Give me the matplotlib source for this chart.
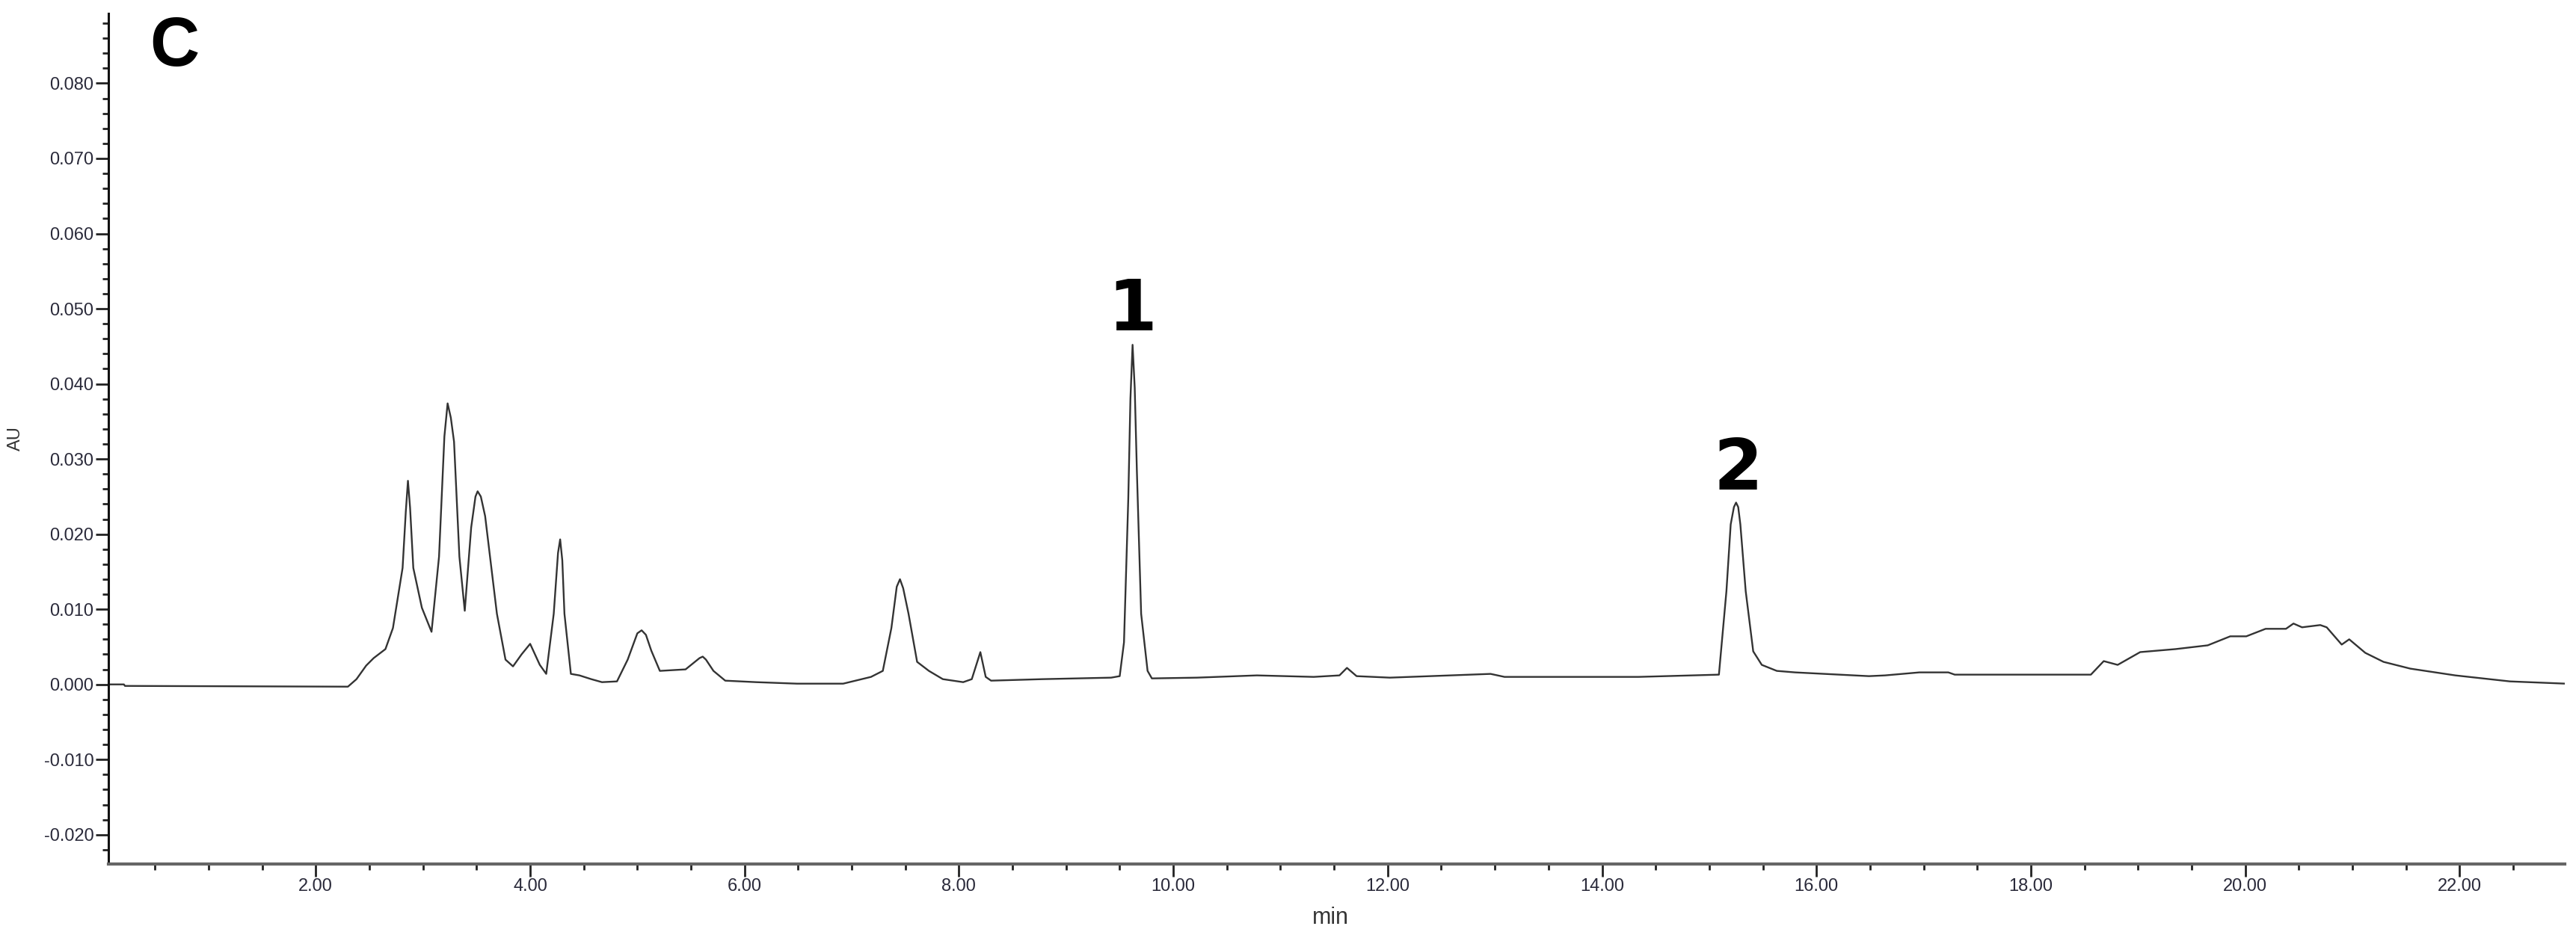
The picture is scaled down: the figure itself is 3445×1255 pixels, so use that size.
import numpy as np
import matplotlib.pyplot as plt
from matplotlib.ticker import MultipleLocator, FormatStrFormatter

# retention time (min) and absorbance (AU)
time_min = [0.07, 0.21, 0.22, 2.30, 2.38, 2.47, 2.54, 2.65, 2.72, 2.81,
            2.84, 2.86, 2.88, 2.91, 2.99, 3.08, 3.15, 3.20, 3.23, 3.26,
            3.29, 3.34, 3.39, 3.45, 3.49, 3.51, 3.54, 3.58, 3.69, 3.77,
            3.84, 3.92, 4.00, 4.09, 4.15, 4.22, 4.26, 4.28, 4.30, 4.32,
            4.38, 4.46, 4.57, 4.67, 4.81, 4.91, 5.00, 5.04, 5.08, 5.13,
            5.21, 5.45, 5.58, 5.61, 5.64, 5.71, 5.82, 6.11, 6.49, 6.92,
            7.18, 7.29, 7.37, 7.42, 7.45, 7.48, 7.53, 7.61, 7.72, 7.85,
            8.04, 8.12, 8.20, 8.25, 8.30, 8.78, 9.42, 9.50, 9.54, 9.58,
            9.60, 9.62, 9.64, 9.66, 9.70, 9.76, 9.80, 10.22, 10.78, 11.31,
            11.55, 11.62, 11.71, 12.02, 12.96, 13.09, 14.34, 15.09, 15.16, 15.20,
            15.23, 15.25, 15.27, 15.29, 15.34, 15.41, 15.49, 15.63, 15.80, 16.49,
            16.64, 16.96, 17.23, 17.29, 18.56, 18.68, 18.81, 19.02, 19.35, 19.65,
            19.86, 20.01, 20.19, 20.38, 20.45, 20.53, 20.70, 20.76, 20.90, 20.97,
            21.12, 21.29, 21.54, 21.96, 22.47, 22.99]
absorbance = [0.0000, 0.0000, -0.0002, -0.0003, 0.0007, 0.0025, 0.0035, 0.0047, 0.0075, 0.0155,
              0.0230, 0.0271, 0.0235, 0.0155, 0.0102, 0.0070, 0.0170, 0.0330, 0.0374, 0.0355,
              0.0323, 0.0170, 0.0098, 0.0209, 0.0250, 0.0257, 0.0250, 0.0224, 0.0094, 0.0033,
              0.0024, 0.0040, 0.0054, 0.0026, 0.0014, 0.0094, 0.0175, 0.0193, 0.0165, 0.0094,
              0.0014, 0.0012, 0.0007, 0.0003, 0.0004, 0.0033, 0.0068, 0.0072, 0.0066, 0.0045,
              0.0018, 0.0020, 0.0035, 0.0037, 0.0033, 0.0018, 0.0005, 0.0003, 0.0001, 0.0001,
              0.0010, 0.0018, 0.0075, 0.0130, 0.0140, 0.0128, 0.0094, 0.0030, 0.0018, 0.0007,
              0.0003, 0.0007, 0.0043, 0.0010, 0.0005, 0.0007, 0.0009, 0.0011, 0.0056, 0.0247,
              0.0380, 0.0452, 0.0395, 0.0285, 0.0094, 0.0018, 0.0008, 0.0009, 0.0012, 0.0010,
              0.0012, 0.0022, 0.0011, 0.0009, 0.0014, 0.0010, 0.0010, 0.0013, 0.0124, 0.0213,
              0.0236, 0.0242, 0.0236, 0.0213, 0.0124, 0.0044, 0.0026, 0.0018, 0.0016, 0.0011,
              0.0012, 0.0016, 0.0016, 0.0013, 0.0013, 0.0031, 0.0026, 0.0043, 0.0047, 0.0052,
              0.0064, 0.0064, 0.0074, 0.0074, 0.0081, 0.0076, 0.0079, 0.0076, 0.0053, 0.0060,
              0.0042, 0.0030, 0.0021, 0.0012, 0.0004, 0.0001]

# labelled peaks
peak_names = ["1", "2"]
peak_pos = [(9.62, 0.0471), (15.27, 0.0259)]

fig = plt.figure(figsize=(34.45, 12.55), dpi=100)
ax = fig.add_axes([0.0421, 0.0789, 0.9535, 0.9068])

ax.plot(time_min, absorbance, color="#333333", lw=1.7)

ax.set_xlim(0.066, 22.98)
ax.set_ylim(-0.0239, 0.0893)

ax.xaxis.set_major_locator(MultipleLocator(2))
ax.xaxis.set_minor_locator(MultipleLocator(0.5))
ax.yaxis.set_major_locator(MultipleLocator(0.01))
ax.yaxis.set_minor_locator(MultipleLocator(0.002))
ax.xaxis.set_major_formatter(FormatStrFormatter("%.2f"))
ax.yaxis.set_major_formatter(FormatStrFormatter("%.3f"))

for s in ["top", "right"]:
    ax.spines[s].set_visible(False)
ax.spines["left"].set_linewidth(2.2)
ax.spines["left"].set_color("#111111")
ax.spines["bottom"].set_linewidth(3)
ax.spines["bottom"].set_color("#666666")

ax.tick_params(which="major", length=12, width=2, color="#222222", pad=2,
               labelsize=17, labelcolor="#2a2a3a")
ax.tick_params(which="minor", length=6, width=2, color="#222222")
for lab in ax.get_xticklabels() + ax.get_yticklabels():
    lab.set_family("Liberation Sans")

ax.set_xlabel("min", fontsize=22, family="Liberation Sans", color="#333333")
ax.xaxis.set_label_coords(0.4977, -0.05)
ax.set_ylabel("AU", fontsize=17, family="Liberation Sans", color="#333333")
ax.yaxis.set_label_coords(-0.0344, 0.5)

for name, (t, v) in zip(peak_names, peak_pos):
    ax.text(t, v, name, ha="center", va="baseline", fontsize=68,
            fontweight="bold", family="DejaVu Sans")

ax.text(0.45, 0.0823, "C", ha="left", va="baseline", fontsize=66,
        fontweight="bold", family="Liberation Sans")

fig.savefig("out.png", dpi=100)
